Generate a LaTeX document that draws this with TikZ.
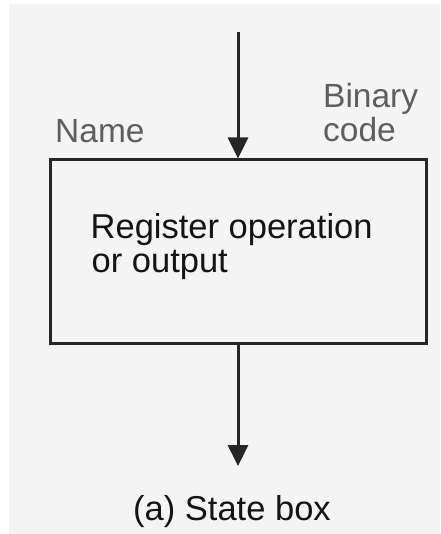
\documentclass[tikz,border=0pt]{standalone}
\usepackage{fontspec}
\setmainfont{Liberation Sans}
\usetikzlibrary{arrows.meta}
\definecolor{paper}{HTML}{F4F4F4}
\definecolor{ink}{HTML}{262626}
\definecolor{textink}{HTML}{141414}
\definecolor{labelgray}{HTML}{5E5E5E}
\tikzset{
  statebox/.style={draw=ink, line width=3pt, inner sep=0pt,
    minimum width=376pt, minimum height=183pt},
  flow/.style={draw=ink, line width=3pt,
    -{Triangle[width=20pt,length=21pt]}},
  txt/.style={inner sep=0pt, anchor=base west},
  bodytext/.style={txt, text=textink, font=\fontsize{34.5}{35}\selectfont},
  labeltext/.style={txt, text=labelgray, font=\fontsize{33.5}{34}\selectfont},
  captiontext/.style={txt, text=textink, font=\fontsize{34.5}{35}\selectfont}
}
\begin{document}
\begin{tikzpicture}[x=1pt, y=-1pt]
  \useasboundingbox (0,0) rectangle (440,534);
  \fill[paper] (9,4) rectangle (440,534);

  % the state box with its entry and exit
  \node[statebox] (state) at (238,251.5) {};
  \coordinate (entry) at (238,32);
  \coordinate (exit) at (238,466);
  \draw[flow] (entry) -- (state.north);
  \draw[flow] (state.south) -- (exit);

  % labels above the box
  \node[labeltext] (name) at (55,143) {Name};
  \node[labeltext] (binary) at (323,108) {Binary};
  \node[labeltext] (code) at (323,142) {code};

  % contents of the box
  \node[bodytext] (regop) at (90.5,238) {Register operation};
  \node[bodytext] (orout) at (91.5,272) {or output};

  % caption
  \node[captiontext] (caption) at (133,520) {(a) State box};
\end{tikzpicture}
\end{document}
